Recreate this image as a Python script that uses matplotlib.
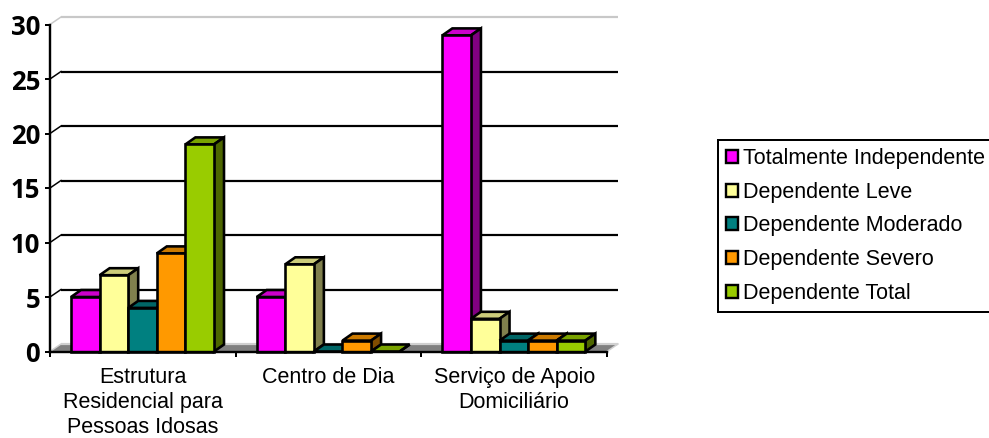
import matplotlib
matplotlib.use("Agg")
import matplotlib.pyplot as plt
from matplotlib.patches import Patch

categories = ["Estrutura\nResidencial para\nPessoas Idosas", "Centro de Dia", "Serviço de Apoio\nDomiciliário"]
series_names = ["Totalmente Independente", "Dependente Leve", "Dependente Moderado", "Dependente Severo", "Dependente Total"]
totalmente = [5, 5, 29]
leve = [7, 8, 3]
moderado = [4, 0, 1]
severo = [9, 1, 1]
total = [19, 0, 1]
series_values = [totalmente, leve, moderado, severo, total]
front_colors = ["#FF00FF", "#FFFF99", "#008080", "#FF9900", "#99CC00"]
top_colors = ["#CC00CC", "#CCCC7A", "#006666", "#CC7A00", "#7AA300"]
side_colors = ["#800080", "#80804D", "#004040", "#804D00", "#4D6600"]
y_ticks = [0, 5, 10, 15, 20, 25, 30]

W, H = 989, 438
x0, x1, ybot, ytop = 50, 607, 351.5, 24.5
fig = plt.figure(figsize=(W / 100, H / 100), dpi=100)
ax = fig.add_axes([x0 / W, 1 - ybot / H, (x1 - x0) / W, (ybot - ytop) / H])
ax.set_xlim(0, 3)
ax.set_ylim(0, 30)
ux = (x1 - x0) / 3
uy = (ybot - ytop) / 30
wall_dx, wall_dy = 11 / ux, 7.5 / uy
bar_dx, bar_dy = 10 / ux, 7 / uy
bar_w = 28.6 / ux
bar_off = 21 / ux
px = 0.72

# floor
ax.fill([0, 3, 3 + wall_dx, wall_dx], [0, 0, wall_dy, wall_dy], color="#808080", lw=0, zorder=1, clip_on=False)
# wall edges and gridlines
for v in y_ticks:
    if v == 0:
        c = "#D0D0D0"
    elif v == 30:
        c = "#C8C8C8"
    else:
        c = "black"
    ax.plot([wall_dx, 3 + wall_dx], [v + wall_dy, v + wall_dy], color=c, lw=2.2 * px, zorder=1.5, clip_on=False, solid_capstyle="butt")
    ax.plot([0, wall_dx], [v, v + wall_dy], color=c, lw=1.5 * px, zorder=1.5, clip_on=False)
ax.plot([3, 3 + wall_dx], [0, wall_dy], color="#D0D0D0", lw=1.5 * px, zorder=1.5, clip_on=False)

# bars
edge = dict(edgecolor="black", lw=2.6 * px, joinstyle="miter", clip_on=False)
for g in range(len(categories)):
    for s, vals in enumerate(series_values):
        v = vals[g]
        l = g + bar_off + s * bar_w
        r = l + bar_w
        z = 3 + s * 0.1
        ax.fill([l, r, r + bar_dx, l + bar_dx], [v, v, v + bar_dy, v + bar_dy], facecolor=top_colors[s], zorder=z, **edge)
        ax.fill([r, r + bar_dx, r + bar_dx, r], [0, bar_dy, v + bar_dy, v], facecolor=side_colors[s], zorder=z, **edge)
        if v > 0:
            ax.fill([l, r, r, l], [0, 0, v, v], facecolor=front_colors[s], zorder=z + 0.01, **edge)

for side in ("top", "right"):
    ax.spines[side].set_visible(False)
for side in ("left", "bottom"):
    ax.spines[side].set_linewidth(2.4 * px)
    ax.spines[side].set_zorder(4)
ax.patch.set_alpha(0)

ax.set_yticks(y_ticks)
ax.set_yticklabels([str(v) for v in y_ticks], family="Open Sans", fontweight="bold", fontsize=18.5)
ax.tick_params(axis="y", length=5 * px, width=2 * px, pad=3.5)
ax.set_xticks([0, 1, 2, 3])
ax.set_xticklabels([])
ax.tick_params(axis="x", length=5 * px, width=2 * px)
ax.set_xticks([0.5, 1.5, 2.5], minor=True)
ax.set_xticklabels(categories, minor=True, family="Liberation Sans", fontsize=15.5, linespacing=1.22)
ax.tick_params(axis="x", which="minor", length=0, pad=11.5)

handles = [Patch(facecolor=c, edgecolor="black", lw=2.4 * px) for c in front_colors]
leg = fig.legend(handles, series_names, loc="upper left", bbox_to_anchor=(718 / W, 1 - 140 / H),
                 borderaxespad=0, frameon=True, fancybox=False, framealpha=1, edgecolor="black",
                 prop={"family": "Liberation Sans", "size": 15.5},
                 handlelength=0.56, handleheight=0.56, handletextpad=0.25,
                 labelspacing=0.59, borderpad=0.37)
leg.get_frame().set_linewidth(2 * px)

fig.savefig("out.png", dpi=100)
